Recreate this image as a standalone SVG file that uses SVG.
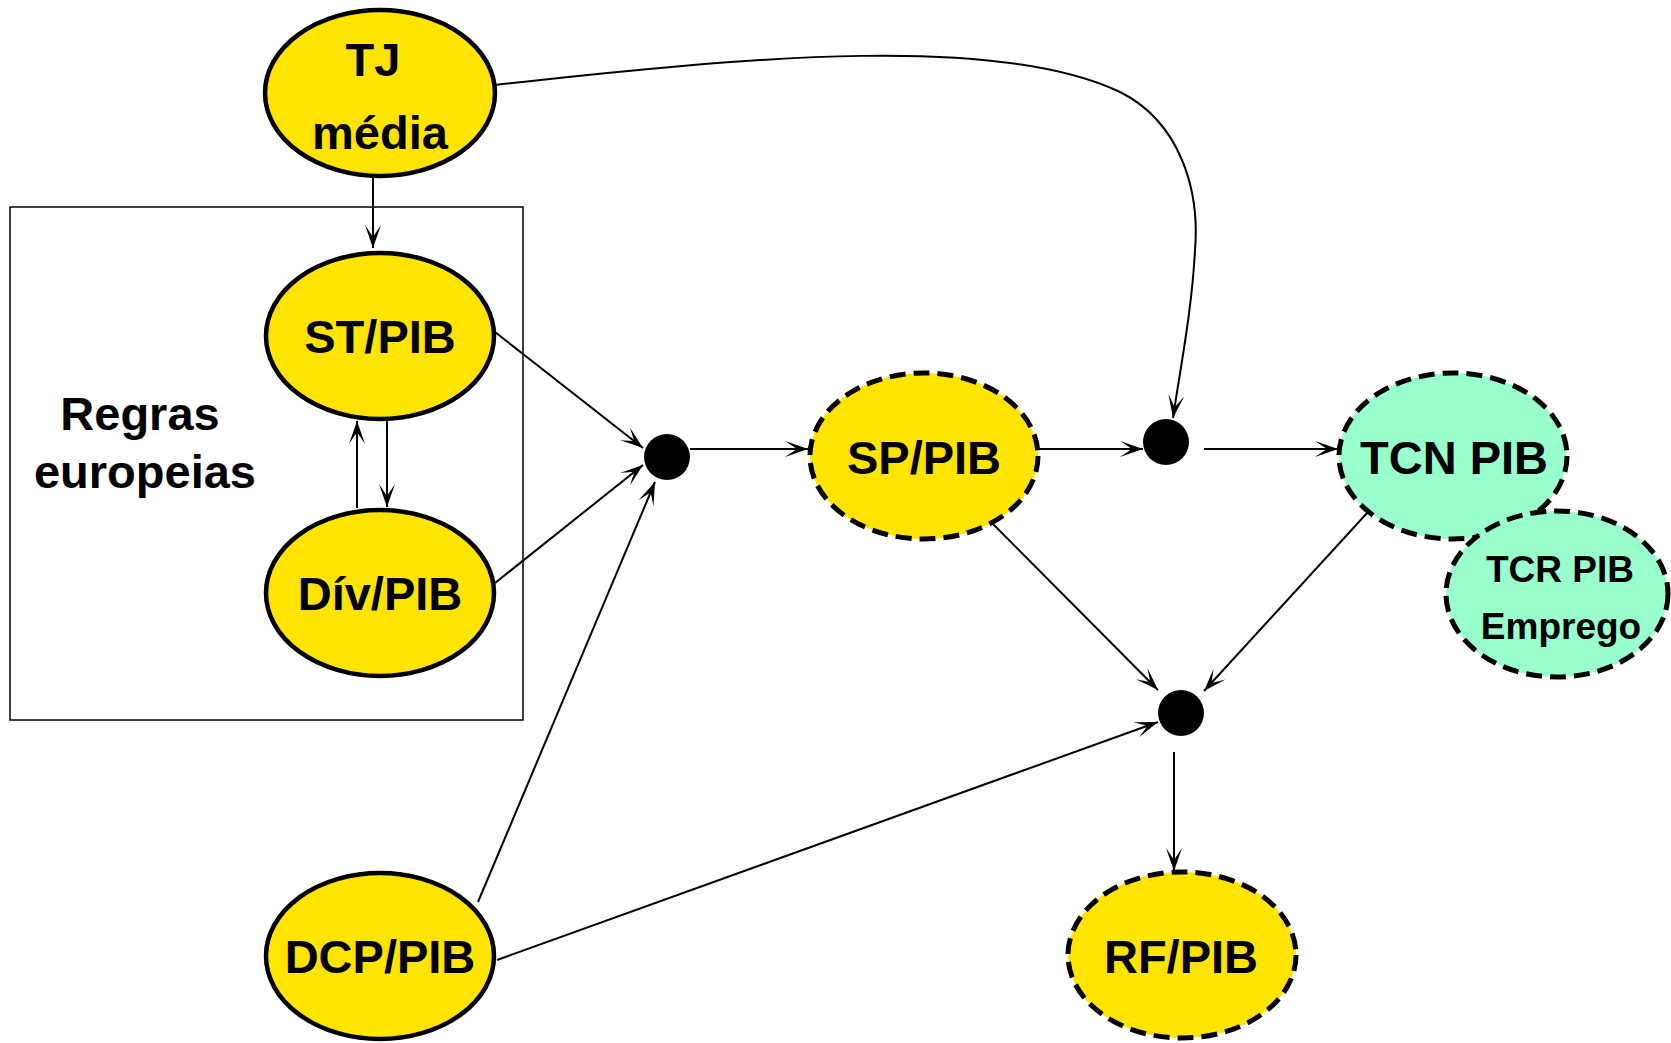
<svg xmlns="http://www.w3.org/2000/svg" width="1671" height="1043" viewBox="0 0 1671 1043">
  <defs>
    <style>
      .node-solid { fill: #FFE400; stroke: #000; stroke-width: 4.5; }
      .node-dash { fill: #FFE400; stroke: #000; stroke-width: 5; stroke-dasharray: 16 8; }
      .node-green { fill: #99FFCC; stroke: #000; stroke-width: 5; stroke-dasharray: 16 8; }
      .lbl { font-family: "Liberation Sans", Arial, sans-serif; font-weight: bold; font-size: 47px; fill: #000; text-anchor: middle; }
      .lbl-sm { font-family: "Liberation Sans", Arial, sans-serif; font-weight: bold; font-size: 37px; fill: #000; text-anchor: middle; }
      .edge { fill: none; stroke: #000; stroke-width: 2; marker-end: url(#arrow); }
      .dot { fill: #000; }
      .frame { fill: none; stroke: #000; stroke-width: 1.5; }
    </style>
    <marker id="arrow" markerUnits="userSpaceOnUse" viewBox="-24 -9 25 18" refX="0" refY="0" markerWidth="25" markerHeight="18" orient="auto">
      <path d="M0,0 L-23,-8 Q-14,-2 -11,0 Q-14,2 -23,8 Z" fill="#000"/>
    </marker>
  </defs>

  <!-- frame around the European rules group -->
  <g id="regras-europeias">
    <rect class="frame" x="10" y="207" width="513" height="513"/>
    <text class="lbl" x="140" y="430">Regras</text>
    <text class="lbl" x="145" y="488">europeias</text>
  </g>

  <!-- connectors -->
  <g id="connectors">
    <path class="edge" d="M373,177 L373,248"/>
    <path class="edge" d="M387,420 L387,507"/>
    <path class="edge" d="M357,508 L357,421"/>
    <path class="edge" d="M495,332 L643,448"/>
    <path class="edge" d="M495,583 L643,465"/>
    <path class="edge" d="M478,902 L655,482"/>
    <path class="edge" d="M497,960 L1158,722"/>
    <path class="edge" d="M690,449 L808,449"/>
    <path class="edge" d="M1038,449 L1143,449"/>
    <path class="edge" d="M1204,449 L1338,449"/>
    <path class="edge" d="M495,85 C760,55 1000,35 1120,92 C1180,122 1200,190 1195,250 C1192,310 1180,370 1173,418"/>
    <path class="edge" d="M993,524 L1158,690"/>
    <path class="edge" d="M1368,512 L1204,691"/>
    <path class="edge" d="M1174,752 L1174,871"/>
  </g>

  <!-- junction points -->
  <g id="junction-1"><circle class="dot" cx="667" cy="457" r="23"/></g>
  <g id="junction-2"><circle class="dot" cx="1166" cy="442" r="23"/></g>
  <g id="junction-3"><circle class="dot" cx="1181" cy="713" r="23"/></g>

  <!-- variables -->
  <g id="tj-media">
    <ellipse class="node-solid" cx="380" cy="93" rx="115" ry="83"/>
    <text class="lbl" x="373" y="76">TJ</text>
    <text class="lbl" x="380" y="149">média</text>
  </g>
  <g id="st-pib">
    <ellipse class="node-solid" cx="380" cy="336" rx="114" ry="83"/>
    <text class="lbl" x="380" y="353">ST/PIB</text>
  </g>
  <g id="div-pib">
    <ellipse class="node-solid" cx="380" cy="593" rx="114" ry="83"/>
    <text class="lbl" x="380" y="610">Dív/PIB</text>
  </g>
  <g id="dcp-pib">
    <ellipse class="node-solid" cx="380" cy="956" rx="114" ry="83"/>
    <text class="lbl" x="380" y="973">DCP/PIB</text>
  </g>
  <g id="sp-pib">
    <ellipse class="node-dash" cx="924" cy="456" rx="114" ry="83"/>
    <text class="lbl" x="924" y="474">SP/PIB</text>
  </g>
  <g id="rf-pib">
    <ellipse class="node-dash" cx="1182" cy="955" rx="114" ry="83"/>
    <text class="lbl" x="1181" y="973">RF/PIB</text>
  </g>
  <g id="tcn-pib">
    <ellipse class="node-green" cx="1453" cy="456" rx="114" ry="83"/>
    <text class="lbl" x="1454" y="474">TCN PIB</text>
  </g>
  <g id="tcr-pib-emprego">
    <ellipse class="node-green" cx="1557" cy="594" rx="111" ry="83"/>
    <text class="lbl-sm" x="1560" y="582">TCR PIB</text>
    <text class="lbl-sm" x="1561" y="639">Emprego</text>
  </g>
</svg>
